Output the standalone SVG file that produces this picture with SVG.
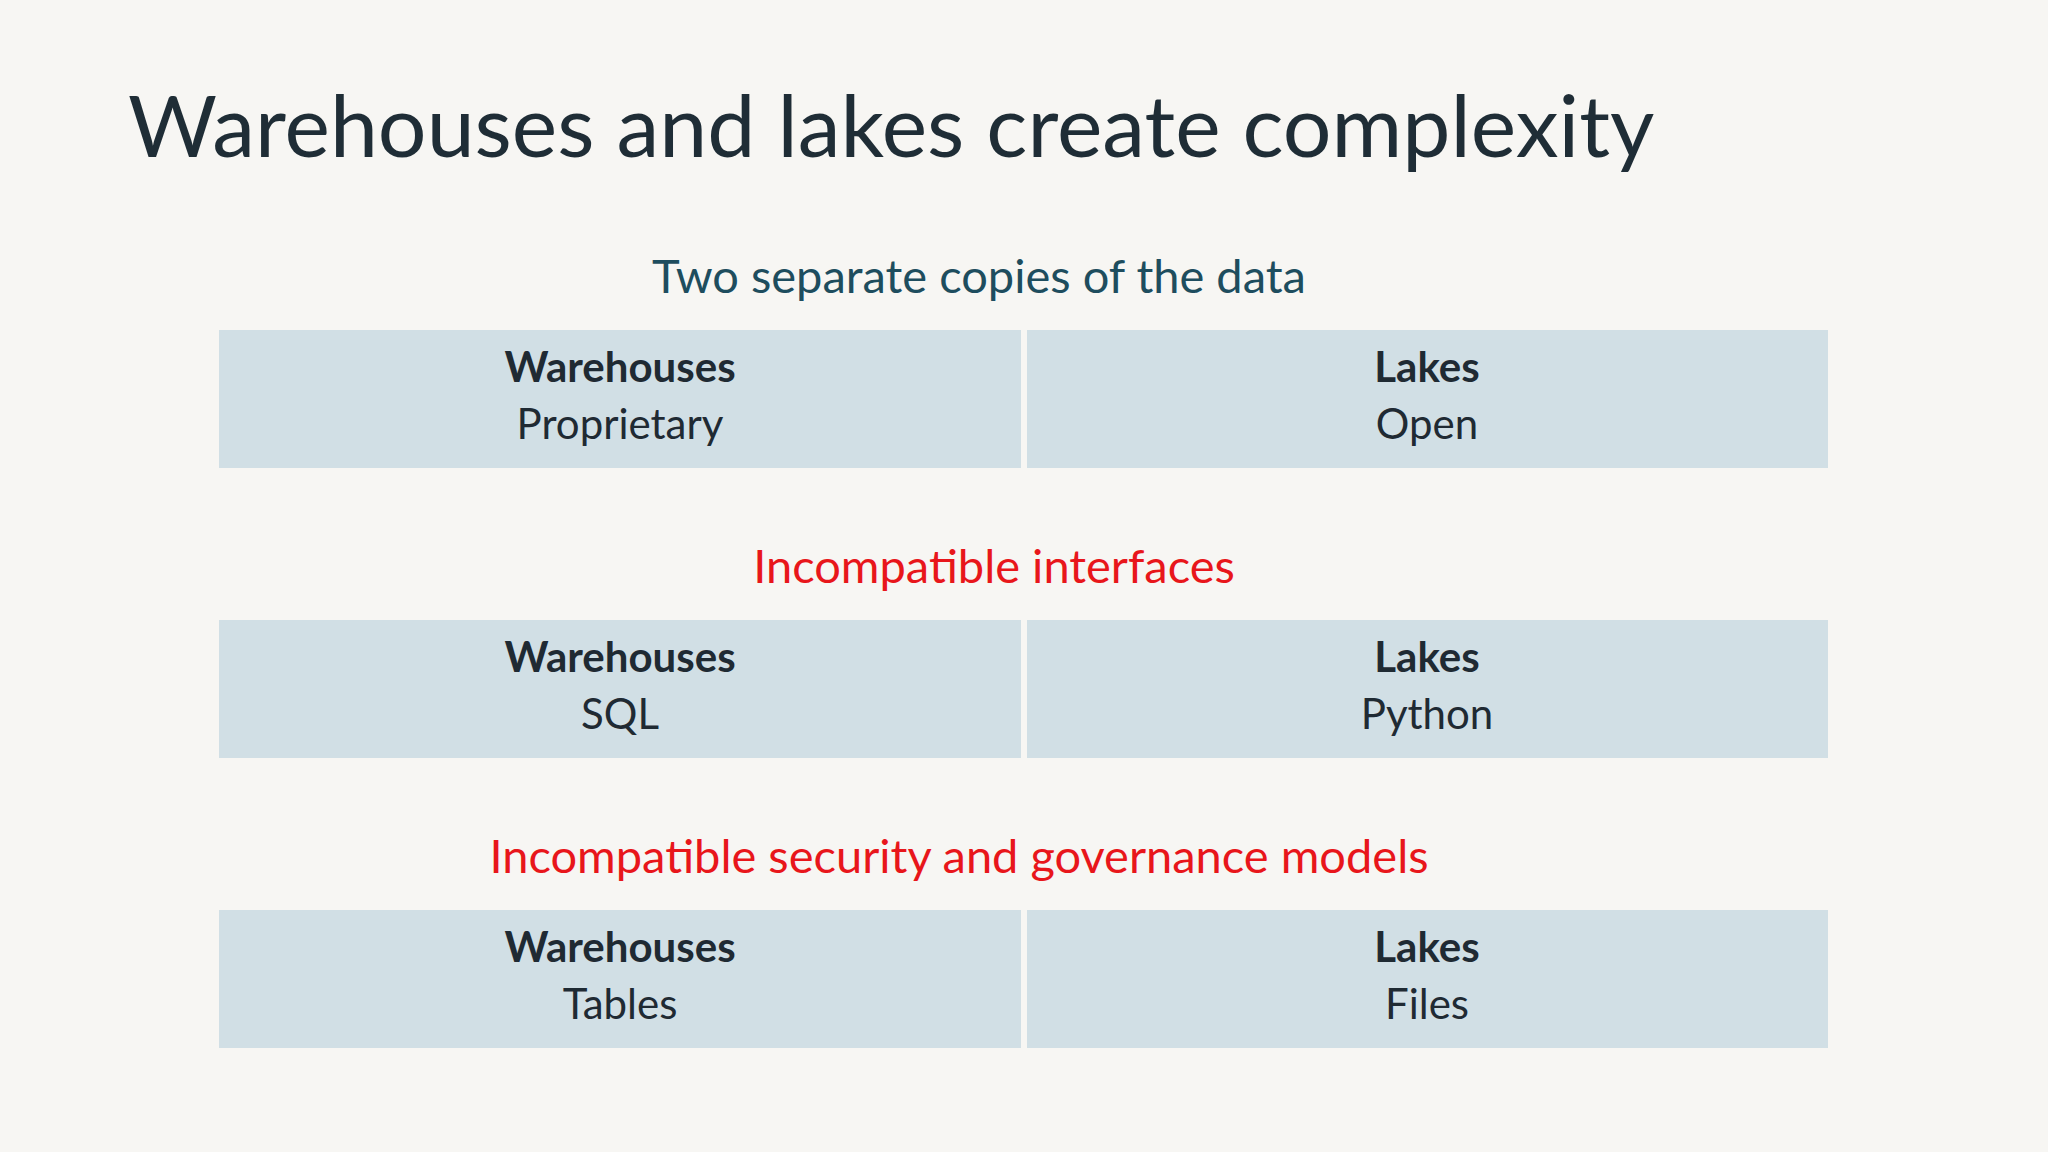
<svg xmlns="http://www.w3.org/2000/svg" width="2048" height="1152" viewBox="0 0 2048 1152">
<style>
.box{fill:#d1dfe5}
.t{font-family:Lato,"Open Sans",sans-serif;fill:#1f2a33;text-anchor:middle;font-size:42px}
.b{font-weight:bold}
.h{font-family:Lato,"Open Sans",sans-serif;text-anchor:middle;font-size:47px}
</style>
<rect width="2048" height="1152" fill="#f7f6f3"/>
<text x="128" y="157" font-family="Lato,'Open Sans',sans-serif" font-size="86" fill="#1f2d36">Warehouses and lakes create complexity</text>
<text class="h" x="979" y="293" fill="#1e4d5e">Two separate copies of the data</text>
<text class="h" x="994" y="583" fill="#e8161b">Incompatible interfaces</text>
<text class="h" x="959" y="873" fill="#e8161b">Incompatible security and governance models</text>
<g id="row1">
<rect class="box" x="219" y="330" width="802" height="138"/>
<rect class="box" x="1027" y="330" width="801" height="138"/>
<text class="t b" x="620" y="382">Warehouses</text><text class="t" x="620" y="439">Proprietary</text>
<text class="t b" x="1427" y="382">Lakes</text><text class="t" x="1427" y="439">Open</text>
</g>
<g id="row2">
<rect class="box" x="219" y="620" width="802" height="138"/>
<rect class="box" x="1027" y="620" width="801" height="138"/>
<text class="t b" x="620" y="672">Warehouses</text><text class="t" x="620" y="729">SQL</text>
<text class="t b" x="1427" y="672">Lakes</text><text class="t" x="1427" y="729">Python</text>
</g>
<g id="row3">
<rect class="box" x="219" y="910" width="802" height="138"/>
<rect class="box" x="1027" y="910" width="801" height="138"/>
<text class="t b" x="620" y="962">Warehouses</text><text class="t" x="620" y="1019">Tables</text>
<text class="t b" x="1427" y="962">Lakes</text><text class="t" x="1427" y="1019">Files</text>
</g>
<g id="connectors"/>
</svg>
